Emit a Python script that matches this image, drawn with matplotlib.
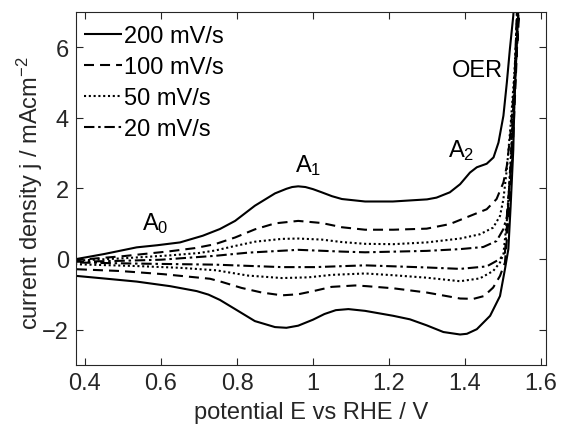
import matplotlib
matplotlib.use("Agg")
import matplotlib.pyplot as plt
from matplotlib.ticker import FormatStrFormatter

plt.rcParams['font.family'] = ['Liberation Sans', 'DejaVu Sans']
plt.rcParams['mathtext.fontset'] = 'custom'
plt.rcParams['mathtext.rm'] = 'Liberation Sans'
plt.rcParams['mathtext.it'] = 'Liberation Sans'

# scan rates
labels = ['200 mV/s', '100 mV/s', '50 mV/s', '20 mV/s']

# anodic (forward) branches, E in V vs RHE, j in mA/cm2
e_up_200 = [0.37, 0.378, 0.45, 0.536, 0.59, 0.65, 0.71, 0.755, 0.795, 0.847, 0.90, 0.93, 0.945,
            0.961, 0.98, 1.0, 1.023, 1.05, 1.076, 1.137, 1.21, 1.30, 1.325, 1.36, 1.387, 1.413,
            1.431, 1.457, 1.475, 1.488, 1.501, 1.51, 1.518, 1.527, 1.535]
j_up_200 = [0.0, 0.0, 0.14, 0.33, 0.39, 0.47, 0.66, 0.85, 1.08, 1.51, 1.86, 1.99, 2.04,
            2.06, 2.04, 1.98, 1.89, 1.78, 1.70, 1.63, 1.63, 1.69, 1.74, 1.89, 2.12, 2.45,
            2.60, 2.70, 2.88, 3.3, 4.06, 5.0, 5.95, 6.9, 8.2]
e_up_100 = [0.37, 0.378, 0.5, 0.624, 0.69, 0.742, 0.795, 0.847, 0.90, 0.961, 1.023, 1.076, 1.137,
            1.211, 1.299, 1.36, 1.413, 1.457, 1.483, 1.501, 1.51, 1.52, 1.53, 1.54, 1.548]
j_up_100 = [-0.03, -0.03, 0.08, 0.22, 0.31, 0.42, 0.61, 0.84, 1.01, 1.08, 1.02, 0.90, 0.83,
            0.83, 0.86, 0.99, 1.22, 1.41, 1.70, 2.17, 2.64, 3.6, 5.0, 6.5, 8.2]
e_up_50 = [0.37, 0.5, 0.62, 0.70, 0.742, 0.795, 0.847, 0.918, 0.961, 1.023, 1.076, 1.137, 1.211,
           1.299, 1.387, 1.439, 1.474, 1.492, 1.501, 1.51, 1.52, 1.53, 1.545]
j_up_50 = [-0.05, 0.02, 0.10, 0.17, 0.24, 0.37, 0.49, 0.57, 0.58, 0.55, 0.48, 0.43, 0.42,
           0.47, 0.58, 0.70, 0.89, 1.22, 1.70, 2.55, 3.8, 5.3, 8.2]
e_up_20 = [0.37, 0.5, 0.6, 0.742, 0.829, 0.961, 1.076, 1.137, 1.299, 1.387, 1.448, 1.483, 1.501,
           1.51, 1.52, 1.53, 1.542]
j_up_20 = [-0.08, -0.05, -0.02, 0.09, 0.18, 0.26, 0.21, 0.19, 0.23, 0.28, 0.34, 0.51, 0.85,
           1.2, 2.5, 4.5, 8.2]

# cathodic (reverse) branches
e_dn_200 = [1.545, 1.536, 1.53, 1.527, 1.52, 1.514, 1.505, 1.492, 1.466, 1.431, 1.405, 1.387,
            1.343, 1.299, 1.255, 1.211, 1.137, 1.093, 1.06, 1.03, 1.0, 0.961, 0.93, 0.90, 0.847,
            0.795, 0.755, 0.725, 0.694, 0.624, 0.536, 0.448, 0.378, 0.37]
j_dn_200 = [8.2, 6.0, 4.5, 3.1, 1.5, 0.28, -0.29, -1.05, -1.61, -1.99, -2.12, -2.14,
            -2.07, -1.88, -1.71, -1.61, -1.47, -1.42, -1.45, -1.56, -1.72, -1.89, -1.95, -1.93, -1.76,
            -1.42, -1.16, -1.01, -0.91, -0.77, -0.64, -0.55, -0.48, -0.47]
e_dn_100 = [1.545, 1.535, 1.525, 1.515, 1.505, 1.492, 1.474, 1.45, 1.422, 1.387, 1.299, 1.211,
            1.141, 1.111, 1.049, 1.005, 0.961, 0.918, 0.865, 0.812, 0.76, 0.729, 0.606, 0.492,
            0.378, 0.37]
j_dn_100 = [8.2, 5.5, 3.0, 1.2, -0.1, -0.48, -0.81, -1.05, -1.13, -1.12, -0.95, -0.83,
            -0.77, -0.75, -0.79, -0.90, -1.00, -1.03, -0.95, -0.82, -0.65, -0.56, -0.43, -0.34,
            -0.29, -0.29]
e_dn_50 = [1.542, 1.532, 1.522, 1.512, 1.501, 1.492, 1.474, 1.439, 1.387, 1.299, 1.211, 1.137,
           1.049, 0.988, 0.918, 0.829, 0.745, 0.65, 0.536, 0.378, 0.37]
j_dn_50 = [8.2, 5.5, 3.2, 1.3, 0.14, -0.10, -0.34, -0.55, -0.63, -0.53, -0.46, -0.41,
           -0.45, -0.52, -0.54, -0.47, -0.32, -0.25, -0.20, -0.15, -0.15]
e_dn_20 = [1.54, 1.53, 1.52, 1.51, 1.505, 1.492, 1.457, 1.387, 1.299, 1.137, 1.005, 0.918,
           0.742, 0.536, 0.378, 0.37]
j_dn_20 = [8.2, 5.0, 2.6, 0.9, 0.18, 0.0, -0.21, -0.28, -0.24, -0.18, -0.23, -0.23,
           -0.16, -0.13, -0.10, -0.10]

xticks = [0.4, 0.6, 0.8, 1.0, 1.2, 1.4, 1.6]
yticks = [-2, 0, 2, 4, 6]

styles = [(0, ()), (0, (4.8, 2.9)), (0, (1.0, 1.3)), (0, (5.0, 1.8, 1.2, 1.8))]
ups = [(e_up_200, j_up_200), (e_up_100, j_up_100), (e_up_50, j_up_50), (e_up_20, j_up_20)]
dns = [(e_dn_200, j_dn_200), (e_dn_100, j_dn_100), (e_dn_50, j_dn_50), (e_dn_20, j_dn_20)]

fig = plt.figure(figsize=(5.62, 4.35), dpi=100)
ax = fig.add_axes([0.135, 0.159, 0.8365, 0.811])

for lab, ls, (eu, ju), (ed, jd) in zip(labels, styles, ups, dns):
    ax.plot(list(eu) + list(ed), list(ju) + list(jd), color='black', lw=1.5,
            linestyle=ls, label=lab)

ax.set_xlim(0.376, 1.613)
ax.set_ylim(-3, 7)
ax.set_xticks(xticks)
ax.set_yticks(yticks)
ax.xaxis.set_major_formatter(FormatStrFormatter('%g'))
ax.tick_params(direction='in', length=5, width=0.8, top=True, right=True,
               labelsize=17, colors='#262626', pad=5)
for s in ax.spines.values():
    s.set_color('#262626')
    s.set_linewidth(0.8)

ax.set_xlabel('potential E vs RHE / V', fontsize=17, color='#262626', labelpad=5)
ax.set_ylabel('current density j / mAcm$^{-2}$', fontsize=17, color='#262626')
ax.yaxis.set_label_coords(-0.066, 0.49)

ax.text(0.549, 0.85, 'A$_0$', fontsize=17)
ax.text(0.953, 2.5, 'A$_1$', fontsize=17)
ax.text(1.355, 2.92, 'A$_2$', fontsize=17)
ax.text(1.365, 5.19, 'OER', fontsize=17)

ax.legend(loc='upper left', bbox_to_anchor=(0.0, 0.986), frameon=False, fontsize=17,
          handlelength=1.6, handletextpad=0.08, labelspacing=0.38, borderaxespad=0.2,
          borderpad=0.15)

fig.savefig('out.png', dpi=100)
